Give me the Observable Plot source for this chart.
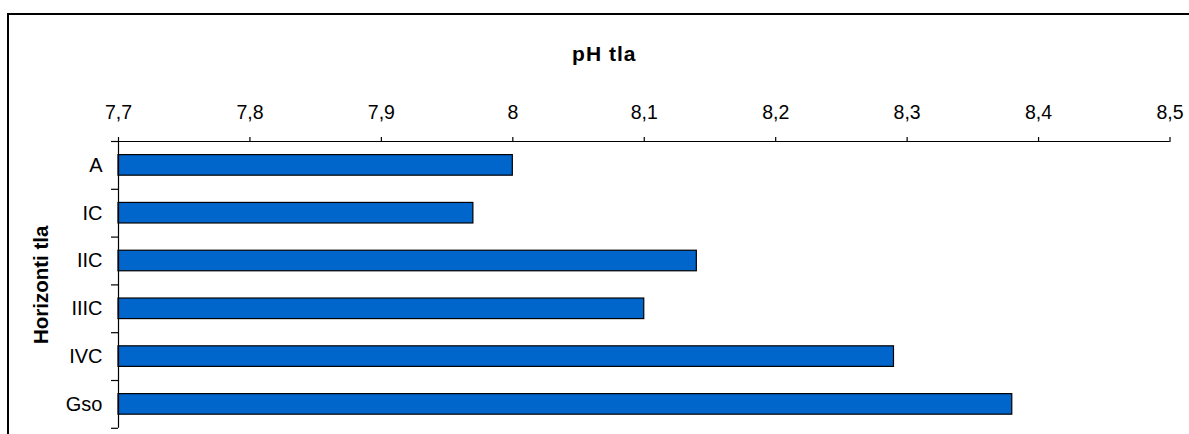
<!DOCTYPE html>
<html>
<head>
<meta charset="utf-8">
<script src="https://cdn.jsdelivr.net/npm/d3@7"></script>
<script src="https://cdn.jsdelivr.net/npm/@observablehq/plot@0.6"></script>
<style>
  html, body { margin: 0; padding: 0; background: #fff; overflow: hidden; }
  #wrap { position: relative; width: 1189px; height: 434px; }
  #border { position: absolute; left: 7px; top: 13px; width: 1300px; height: 600px;
            border-left: 2px solid #000; border-top: 2px solid #000; pointer-events: none; }
  #chart { position: absolute; left: 0; top: 0; }
  #chart svg text.ttl { letter-spacing: 1px; }
</style>
</head>
<body>
<div id="wrap">
  <div id="chart"></div>
  <div id="border"></div>
</div>
<script>
const categories = ["A", "IC", "IIC", "IIIC", "IVC", "Gso"];
const values = [8.00, 7.97, 8.14, 8.10, 8.29, 8.38];
const xTicks = [7.7, 7.8, 7.9, 8.0, 8.1, 8.2, 8.3, 8.4, 8.5];
const xMin = 7.7, xMax = 8.5;
const title = "pH tla";
const yTitle = "Horizonti tla";

const data = categories.map((c, i) => ({cat: c, i, v: values[i]}));
const fmt = v => String(+v.toFixed(1)).replace(".", ",");
const half = 0.215;

const plot = Plot.plot({
  width: 1189,
  height: 434,
  marginLeft: 118,
  marginRight: 19.5,
  marginTop: 141,
  marginBottom: 6.2,
  style: {fontFamily: "'Liberation Sans', Arial, sans-serif", fontSize: "19px", color: "#000", background: "transparent"},
  x: {domain: [xMin, xMax]},
  y: {domain: [0, categories.length], reverse: true},
  marks: [
    Plot.rect(data, {
      x1: () => xMin, x2: "v",
      y1: d => d.i + 0.5 - half, y2: d => d.i + 0.5 + half,
      fill: "#0066CC", stroke: "#000", strokeWidth: 1.2
    }),
    Plot.ruleX([xMin], {stroke: "#000", strokeWidth: 1.2}),
    Plot.ruleY([0], {stroke: "#000", strokeWidth: 1.2}),
    Plot.axisX({anchor: "top", ticks: xTicks, tickSize: 5, tickPadding: 18, tickFormat: fmt,
                fontSize: 19.5, label: null, strokeWidth: 1.2}),
    Plot.axisY({ticks: d3.range(categories.length + 1), tickSize: 7, tickFormat: () => "",
                label: null, strokeWidth: 1.2}),
    Plot.axisY({ticks: d3.range(categories.length).map(i => i + 0.5), tickSize: 0, tickPadding: 16,
                tickFormat: v => categories[Math.floor(v)], fontSize: 20, label: null}),
    Plot.text([yTitle], {text: d => d, frameAnchor: "left", textAnchor: "middle", dx: -77.2, rotate: -90,
                fontWeight: "bold", fontSize: 20.5, fill: "#000"}),
    Plot.text([title], {text: d => d, frameAnchor: "top", textAnchor: "middle", dx: -40, dy: -95.3,
                fontWeight: "bold", fontSize: 21, fill: "#000"})
  ]
});
document.getElementById("chart").appendChild(plot);
// title letter-spacing to mimic the wider reference rendering
const texts = plot.querySelectorAll("text");
texts.forEach(t => { if (t.textContent === title) t.setAttribute("class", "ttl"); });
</script>
</body>
</html>
